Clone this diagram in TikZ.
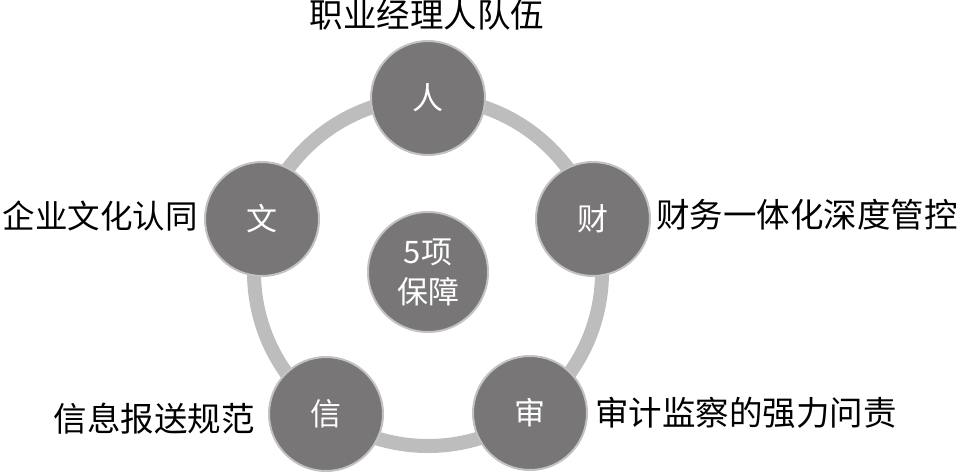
\documentclass[tikz,border=0pt]{standalone}
\usepackage{fontspec}
\newfontfamily\cjk{Noto Sans CJK SC}
\definecolor{ringgray}{HTML}{BDBDBD}
\definecolor{ballgray}{HTML}{787676}
\definecolor{balledge}{HTML}{C2C2C2}
\begin{document}
\begin{tikzpicture}[x=1pt,y=-1pt,
  ball/.style={circle,fill=ballgray,draw=balledge,line width=2pt,minimum size=114pt,inner sep=0pt,text=white,font=\cjk\fontsize{31}{40}\selectfont,align=center},
  lbl/.style={inner sep=0pt,font=\cjk\fontsize{33.5}{38}\selectfont,text=black}]
\useasboundingbox (0,0) rectangle (959,472);
\coordinate (c) at (428,272);
\draw[ringgray,line width=14pt] (c) circle[radius=174pt];
\node[ball] (ren) at (428,98) {人};
\node[ball] (cai) at (593,219) {财};
\node[ball] (wen) at (262,219) {文};
\node[ball] (xin) at (326,414) {信};
\node[ball] (shen) at (530,413) {审};
\node[ball,minimum size=120pt] (mid) at (c) {5项\\保障};
\node[lbl,anchor=center] (lren) at (427,15) {职业经理人队伍};
\node[lbl,anchor=west] (lcai) at (656,215) {财务一体化深度管控};
\node[lbl,anchor=east,font=\cjk\fontsize{32.5}{38}\selectfont] (lwen) at (198,216) {企业文化认同};
\node[lbl,anchor=east] (lxin) at (255,419) {信息报送规范};
\node[lbl,anchor=west] (lshen) at (595,413) {审计监察的强力问责};
\end{tikzpicture}
\end{document}
